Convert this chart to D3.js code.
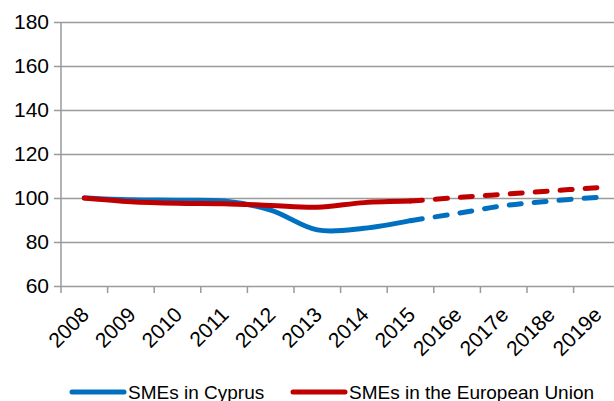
<!DOCTYPE html>
<html>
<head>
<meta charset="utf-8">
<script src="https://cdn.jsdelivr.net/npm/d3@7"></script>
<style>
	body { margin: 0; background: #fff; }
	svg { display: block; font-family: "Liberation Sans", Arial, sans-serif; }
</style>
</head>
<body>
<div id="chart"></div>
<script>
var categories = ['2008', '2009', '2010', '2011', '2012', '2013', '2014', '2015', '2016e', '2017e', '2018e', '2019e'];
var cyprus     = [100, 99.2, 99, 98.6, 94.5, 85.5, 86.2, 89.7, 93, 96.5, 98.6, 100.3];
var eu         = [100, 98.3, 97.6, 97.4, 96.6, 95.8, 97.9, 98.6, 100.2, 101.7, 103.2, 104.7];
var y_ticks    = [60, 80, 100, 120, 140, 160, 180];
var series_names = ['SMEs in Cyprus', 'SMEs in the European Union'];
var last_actual  = '2015';

var width    = 614;
var height   = 401;
var left     = 61;
var plot_top = 22;
var bottom   = 286;
var band     = 46.6;

var colors = ['#0070c0', '#c00000'];

var svg = d3.select('#chart')
			.append('svg')
			.attr('width', width)
			.attr('height', height);

// scales
var x_scale = d3.scaleBand()
				.domain(categories)
				.range([left, left + band * categories.length]);

var y_scale = d3.scaleLinear()
				.domain([60, 180])
				.range([bottom, plot_top]);

// gridlines + y axis
var y_axis = d3.axisLeft(y_scale)
			.tickValues(y_ticks)
			.tickSize(-(width - left))
			.tickPadding(12)
			.tickFormat(d3.format('d'));

var gy = svg.append('g')
	.attr('transform', 'translate(' + left + ',0)')
	.call(y_axis);
gy.select('.domain').remove();
gy.selectAll('.tick line')
	.attr('x1', -7)
	.attr('stroke', '#9a9a9a')
	.attr('stroke-width', 1.5);
gy.selectAll('.tick text')
	.attr('fill', '#000')
	.style('font-size', '21px');

// vertical axis line
svg.append('line')
	.attr('x1', left).attr('x2', left)
	.attr('y1', plot_top).attr('y2', bottom)
	.attr('stroke', '#9a9a9a')
	.attr('stroke-width', 1.5);

// x axis, ticks between the categories
var x_axis = d3.axisBottom(x_scale)
			.tickSize(0)
			.tickPadding(0);

var gx = svg.append('g')
	.attr('transform', 'translate(0,' + bottom + ')')
	.call(x_axis);
gx.select('.domain').remove();
gx.selectAll('.tick text')
	.attr('fill', '#000')
	.style('font-size', '21px')
	.attr('text-anchor', 'end')
	.attr('dy', 0)
	.attr('y', 0)
	.attr('transform', 'translate(6,30) rotate(-45)');

svg.append('g')
	.selectAll('line')
	.data(categories)
	.enter()
	.append('line')
	.attr('x1', function(d) { return x_scale(d); })
	.attr('x2', function(d) { return x_scale(d); })
	.attr('y1', bottom)
	.attr('y2', bottom + 7)
	.attr('stroke', '#9a9a9a')
	.attr('stroke-width', 1.5);

// lines: solid up to last actual year, dashed afterwards
var line = d3.line()
		.x(function(d) { return x_scale(d.cat) + x_scale.bandwidth() / 2; })
		.y(function(d) { return y_scale(d.value); })
		.curve(d3.curveCatmullRom.alpha(0.5));

var split = categories.indexOf(last_actual);

[cyprus, eu].forEach(function(values, i) {
	var points = values.map(function(v, j) {
		return { cat: categories[j], value: v };
	});

	svg.append('path')
		.datum(points.slice(0, split + 1))
		.attr('fill', 'none')
		.attr('stroke', colors[i])
		.attr('stroke-width', 5)
		.attr('stroke-linecap', 'round')
		.attr('d', line);

	svg.append('path')
		.datum(points.slice(split))
		.attr('fill', 'none')
		.attr('stroke', colors[i])
		.attr('stroke-width', 5)
		.attr('stroke-linecap', 'round')
		.attr('stroke-dasharray', '12,13')
		.attr('d', line);
});

// legend
var legend_x = [72, 293];
series_names.forEach(function(name, i) {
	svg.append('line')
		.attr('x1', legend_x[i]).attr('x2', legend_x[i] + 52)
		.attr('y1', 392).attr('y2', 392)
		.attr('stroke', colors[i])
		.attr('stroke-width', 5)
		.attr('stroke-linecap', 'round');
	svg.append('text')
		.attr('x', legend_x[i] + 56)
		.attr('y', 399)
		.style('font-size', '19px')
		.text(name);
});
</script>
</body>
</html>
